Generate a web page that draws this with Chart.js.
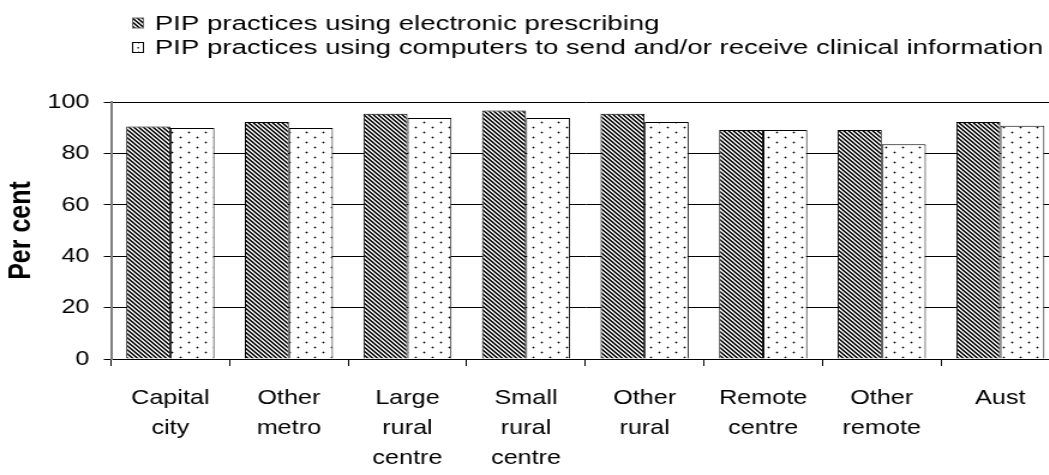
<!DOCTYPE html>
<html>
<head>
<meta charset="utf-8">
<script src="https://cdn.jsdelivr.net/npm/chart.js@4"></script>
<style>
  html, body { margin: 0; padding: 0; background: #fff; overflow: hidden; }
  /* the reference looks stretched sideways, so the chart is drawn narrow and widened */
  #wrap { position: relative; width: 884px; height: 475px; transform: scaleX(1.2); transform-origin: 0 0; }
</style>
</head>
<body>
<div id="wrap"><canvas id="grafico"></canvas></div>
<script>
const categorias = [
    ["Capital", "city"],
    ["Other", "metro"],
    ["Large", "rural", "centre"],
    ["Small", "rural", "centre"],
    ["Other", "rural"],
    ["Remote", "centre"],
    ["Other", "remote"],
    ["Aust"]
];
const prescricaoEletronica = [90.5, 92.2, 95.4, 96.7, 95.4, 89.1, 89.1, 92.2];
const infoClinica = [89.9, 89.9, 93.8, 93.8, 92.2, 89.1, 83.6, 90.8];
const rotulosSeries = [
    "PIP practices using electronic prescribing",
    "PIP practices using computers to send and/or receive clinical information"
];
const ticksY = [0, 20, 40, 60, 80, 100];

const FONTE = "'Liberation Sans', Arial, sans-serif";

function padraoListras() {
    const c = document.createElement("canvas");
    c.width = 4; c.height = 4;
    const g = c.getContext("2d");
    g.fillStyle = "#fff";
    g.fillRect(0, 0, 4, 4);
    for (let y = 0; y < 4; y++) {
        for (let x = 0; x < 4; x++) {
            const d = ((x - y) % 4 + 4) % 4;
            if (d === 0) { g.fillStyle = "#000"; g.fillRect(x, y, 1, 1); }
            else if (d === 1) { g.fillStyle = "#333"; g.fillRect(x, y, 1, 1); }
            else if (d === 3) { g.fillStyle = "#bbb"; g.fillRect(x, y, 1, 1); }
        }
    }
    return g.createPattern(c, "repeat");
}

function padraoPontos() {
    const c = document.createElement("canvas");
    c.width = 14; c.height = 10;
    const g = c.getContext("2d");
    g.fillStyle = "#fff";
    g.fillRect(0, 0, 14, 10);
    [[3, 2], [10, 7]].forEach(([x, y]) => {
        g.fillStyle = "#a8a8a8";
        g.fillRect(x - 1, y, 3, 1);
        g.fillRect(x, y - 1, 1, 3);
        g.fillStyle = "#000";
        g.fillRect(x, y, 1, 1);
    });
    return g.createPattern(c, "repeat");
}

const ctx = document.getElementById("grafico").getContext("2d");
const listras = padraoListras();
const pontos = padraoPontos();

const legendaPlugin = {
    id: "legendaPlugin",
    afterDraw(chart) {
        const c = chart.ctx;
        const fills = [listras, pontos];
        rotulosSeries.forEach((texto, i) => {
            const yc = 23 + i * 24.5;
            c.save();
            c.fillStyle = fills[i];
            c.fillRect(110.5, yc - 5, 9, 10);
            c.strokeStyle = i === 0 ? "#666" : "#000";
            c.lineWidth = 1;
            c.strokeRect(110.5, yc - 5, 9, 10);
            if (i === 1) {
                c.fillStyle = "#000";
                c.fillRect(114.5, yc - 0.5, 1.2, 1.5);
            }
            c.translate(129, yc + 1);
            c.scale(1.122, 1);
            c.font = "20.5px " + FONTE;
            c.textBaseline = "middle";
            c.fillStyle = "#000";
            c.fillText(texto, 0, 0);
            c.restore();
        });
    }
};

new Chart(ctx, {
    type: "bar",
    data: {
        labels: categorias,
        datasets: [
            {
                label: rotulosSeries[0],
                data: prescricaoEletronica,
                backgroundColor: listras,
                borderColor: "#000",
                borderWidth: 1,
                categoryPercentage: 0.743,
                barPercentage: 1
            },
            {
                label: rotulosSeries[1],
                data: infoClinica,
                backgroundColor: pontos,
                borderColor: "#000",
                borderWidth: 1,
                categoryPercentage: 0.743,
                barPercentage: 1
            }
        ]
    },
    options: {
        responsive: true,
        maintainAspectRatio: false,
        animation: false,
        layout: {
            padding: { top: 102, left: 0, right: 1, bottom: 0 }
        },
        plugins: {
            legend: { display: false },
            tooltip: { enabled: false }
        },
        scales: {
            x: {
                grid: {
                    drawOnChartArea: false,
                    color: "#000",
                    tickLength: 7
                },
                border: { color: "#000", width: 1 },
                ticks: {
                    color: "#000",
                    padding: 17,
                    maxRotation: 0,
                    autoSkip: false,
                    font: { family: FONTE, size: 21, lineHeight: 1.44 }
                },
                afterFit(scale) { scale.height = 116; }
            },
            y: {
                min: 0,
                max: 100,
                afterBuildTicks(scale) {
                    scale.ticks = ticksY.map(v => ({ value: v }));
                },
                grid: {
                    color: "#000",
                    lineWidth: 1,
                    tickLength: 6
                },
                border: { color: "#808080", width: 2 },
                ticks: {
                    color: "#000",
                    padding: 12,
                    font: { family: FONTE, size: 21 }
                },
                title: {
                    display: true,
                    text: "Per cent",
                    color: "#000",
                    padding: { top: 3, bottom: 0 },
                    font: { family: FONTE, size: 25, weight: "bold" }
                },
                afterFit(scale) { scale.width = 92.5; }
            }
        }
    },
    plugins: [legendaPlugin]
});
</script>
</body>
</html>
